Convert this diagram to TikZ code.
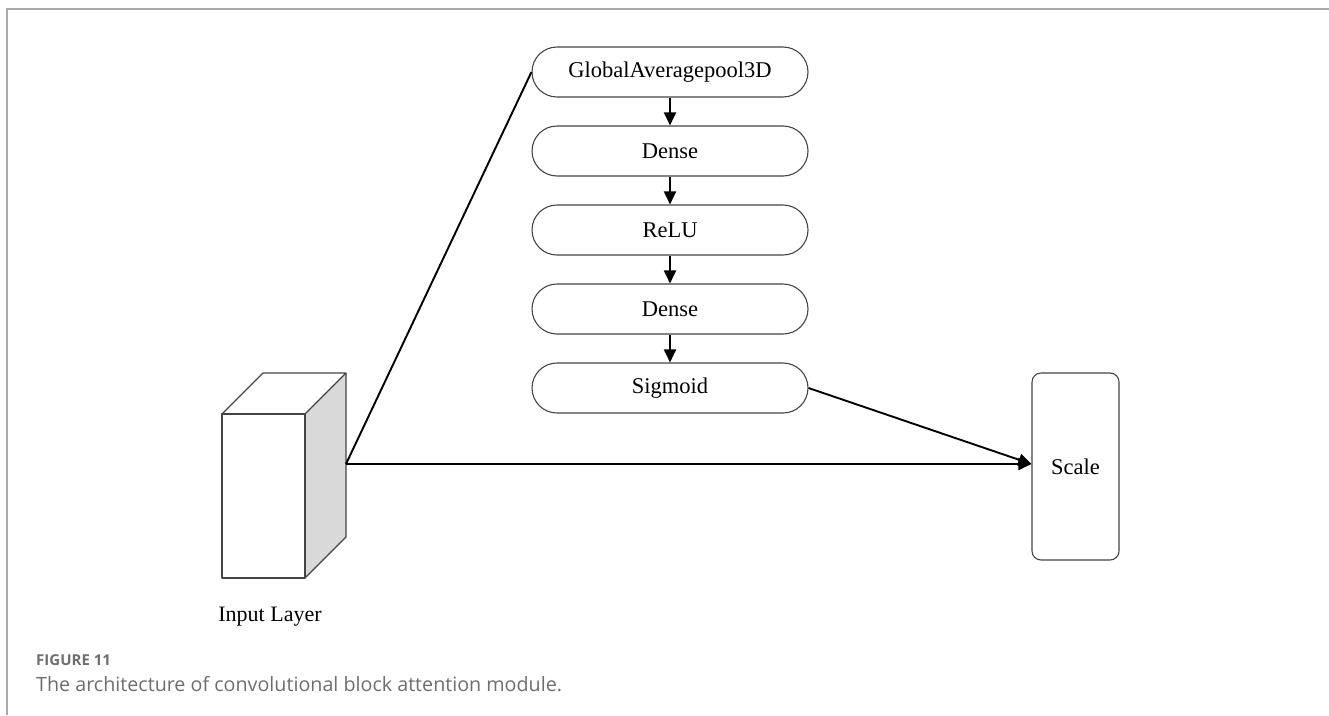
\documentclass[tikz,border=0pt]{standalone}
\usepackage{fontspec}
\setmainfont{Liberation Serif}
\newfontfamily\capfont{Open Sans}
\usetikzlibrary{arrows.meta,calc}
\definecolor{framegray}{HTML}{AAAAAA}
\definecolor{capgray}{HTML}{6E6E6E}
\definecolor{sidegray}{HTML}{D9D9D9}
\definecolor{edgegray}{HTML}{444444}
\begin{document}
\begin{tikzpicture}[x=1pt,y=-1pt,
  layerbox/.style={draw=edgegray,line width=1.1pt,rounded corners=25pt,minimum width=276pt,minimum height=50pt,inner sep=0pt,font=\fontsize{22.5}{26}\selectfont},
  conn/.style={draw=black,line width=1.9pt},
  arr/.style={conn,-{Triangle[length=13pt,width=12pt]}},
  cubeedge/.style={draw=edgegray,line width=1.1pt}]
\useasboundingbox (0,0) rectangle (1329,715);
% frame
\draw[framegray,line width=2pt] (7,715) -- (7,9) -- (1329,9);
% boxes
\node[layerbox] (gap) at (670,72) {GlobalAveragepool3D};
\node[layerbox] (d1) at (670,151) {Dense};
\node[layerbox] (relu) at (670,230) {ReLU};
\node[layerbox] (d2) at (670,309) {Dense};
\node[layerbox] (sig) at (670,388) {Sigmoid};
\node[draw=edgegray,line width=1.1pt,rounded corners=9pt,minimum width=87pt,minimum height=187pt,inner sep=0pt,font=\fontsize{22.5}{26}\selectfont] (scale) at (1075.5,466.5) {Scale};
% cube
\fill[sidegray] (305,414) -- (346,373) -- (346,537) -- (305,578) -- cycle;
\draw[cubeedge,line join=round] (222,414) rectangle (305,578);
\draw[cubeedge,line join=round] (222,414) -- (263,373) -- (346,373) -- (305,414);
\draw[cubeedge,line join=round] (346,373) -- (346,537) -- (305,578);
\coordinate (cubeout) at (346,464);
\node[font=\fontsize{22}{26}\selectfont] (inlabel) at (270,617) {Input Layer};
% connectors
\draw[arr] (gap) -- (d1);
\draw[arr] (d1) -- (relu);
\draw[arr] (relu) -- (d2);
\draw[arr] (d2) -- (sig);
\draw[conn] (cubeout) -- (gap.west);
\draw[arr] (cubeout) -- (scale.west |- cubeout);
\draw[arr] (sig.east) -- (scale.west |- cubeout);
% caption
\node[anchor=west,text=capgray,font=\capfont\bfseries\fontsize{15}{18}\selectfont,inner sep=0pt] (fig) at (36,660) {FIGURE 11};
\node[anchor=west,text=capgray,font=\capfont\fontsize{19.7}{23}\selectfont,inner sep=0pt] (cap) at (36,684) {The architecture of convolutional block attention module.};
\end{tikzpicture}
\end{document}
